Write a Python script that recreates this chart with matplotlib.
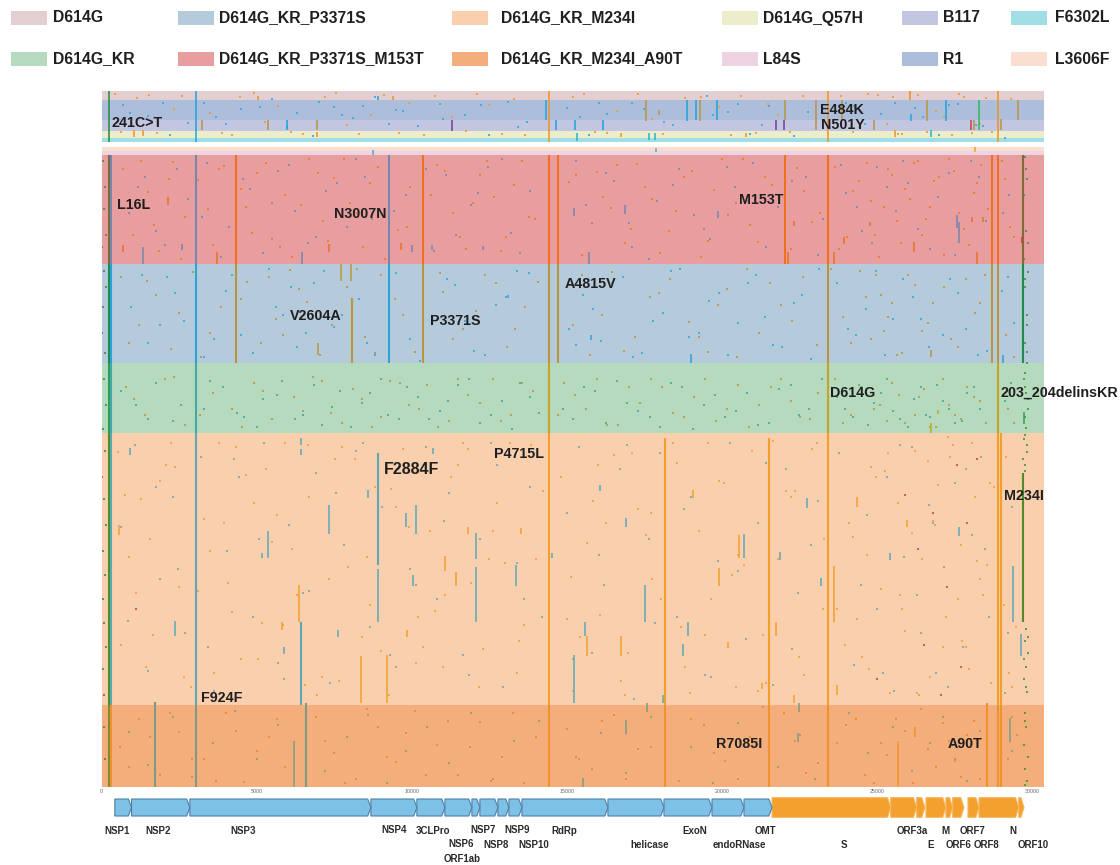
#! python

# mutation map of the genome, one row per sequence, grouped by clade
# values

import matplotlib
matplotlib.use('Agg')

import matplotlib.pyplot as plt
from matplotlib.patches import Polygon, Rectangle

plt.rcParams['font.family'] = ['Liberation Sans', 'DejaVu Sans']

#legend
legend_labels = [['D614G', 'D614G_KR_P3371S', 'D614G_KR_M234I', 'D614G_Q57H', 'B117', 'F6302L'],
                 ['D614G_KR', 'D614G_KR_P3371S_M153T', 'D614G_KR_M234I_A90T', 'L84S', 'R1', 'L3606F']]
legend_colors = [['#e3cfd1', '#b5cbdc', '#f9cfae', '#ecedcb', '#c2c6e0', '#a0dde4'],
                 ['#b6dabd', '#e89d9f', '#f4ae7c', '#eed3e3', '#adbedb', '#fadfd0']]

#clade bands, number of rows per clade
top_names = ['D614G', 'R1', 'B117', 'D614G_Q57H', 'F6302L']
top_sizes = [9, 20, 11, 7, 4]
top_colors = ['#e3cfd1', '#adbedb', '#c2c6e0', '#ecedcb', '#a0dde4']
main_names = ['L3606F', 'L84S', 'D614G_KR_P3371S_M153T', 'D614G_KR_P3371S', 'D614G_KR', 'D614G_KR_M234I', 'D614G_KR_M234I_A90T']
main_sizes = [4, 4, 109, 99, 70, 272, 82]
main_colors = ['#fadfd0', '#eed3e3', '#e89d9f', '#b5cbdc', '#b6dabd', '#f9cfae', '#f4ae7c']

#shared mutations (position, first row, last row, type)
top_lines = [(235, 0, 51, 'g'), (3030, 0, 51, 'b'), (14407, 0, 51, 'o'), (23410, 0, 51, 'o'), (28880, 0, 51, 'o'),
             (9389, 5, 9, 'o'), (5037, 5, 9, 'o'), (8905, 5, 9, 'b'), (14336, 9, 29, 'b'), (3249, 29, 39, 't'),
             (5379, 29, 39, 't'), (5988, 29, 39, 'b'), (6933, 29, 39, 't'), (11284, 29, 40, 'p'), (14643, 29, 39, 'b'),
             (1041, 39, 46, 'o'), (1331, 39, 45, 'o'), (6949, 41, 46, 'o'), (17533, 9, 30, 't'), (17961, 19, 24, 't'),
             (18858, 9, 30, 'b'), (19154, 9, 29, 'b'), (19270, 9, 30, 't'), (19831, 9, 29, 'b'), (15255, 29, 39, 'b'),
             (16157, 29, 39, 'b'), (21733, 29, 39, 'p'), (21991, 29, 39, 'p'), (22023, 9, 29, 't'), (23013, 9, 39, 't'),
             (23860, 9, 29, 't'), (24893, 29, 39, 't'), (26054, 0, 9, 'o'), (26076, 23, 30, 'b'), (26602, 9, 30, 't'),
             (27214, 9, 30, 'b'), (28264, 9, 39, 'G'), (28010, 29, 39, 'r'), (28103, 29, 39, 't'), (28986, 28, 39, 't'),
             (29534, 9, 29, 't'), (15319, 42, 50, 'T'), (16738, 42, 46, 'o'), (17626, 42, 49, 'T'), (17832, 42, 49, 'T'),
             (20757, 42, 46, 'o'), (26722, 39, 46, 'T'), (25571, 39, 46, 'o')]
pale_lines = [(8757, 3, 8, 'b'), (17866, 1, 5, 'b'), (28150, 0, 5, 'o')]
red_lines = [(235, 8, 117, 'm'), (300, 8, 117, 'b'), (3030, 8, 117, 'b'), (4329, 8, 117, 'o'), (9260, 8, 117, 'b'), (10365, 8, 117, 'o'),
             (14407, 8, 117, 'o'), (14697, 8, 117, 'o'), (22013, 8, 117, 'o'), (23410, 8, 117, 'o'), (28696, 8, 117, 'o'),
             (28880, 8, 117, 'o'), (29695, 8, 117, 'm'), (1331, 100, 117, 'b'), (2137, 50, 58, 'o'), (3716, 105, 117, 'o'),
             (6456, 105, 117, 'b'), (7326, 97, 105, 'o'), (9646, 96, 103, 'o'), (10001, 98, 105, 'b'), (690, 98, 105, 'o'),
             (10636, 98, 103, 'b'), (2578, 97, 103, 'b'), (15706, 105, 117, 'b'), (15222, 61, 69, 'b'), (16867, 58, 67, 'b'),
             (19851, 64, 71, 'b'), (12290, 99, 103, 'b'), (22110, 105, 117, 'o'), (23603, 105, 117, 'o'), (23925, 90, 97, 'o'),
             (26183, 95, 105, 'o'), (28213, 105, 117, 'o'), (27633, 75, 96, 'b'), (27559, 68, 81, 'b'), (22313, 74, 79, 'o'),
             (24764, 75, 79, 'o'), (28052, 70, 75, 'o'), (28406, 70, 75, 'o'), (29653, 90, 96, 'r')]
blue_lines = [(235, 117, 216, 'g'), (300, 117, 216, 'b'), (3030, 117, 216, 'b'), (4329, 117, 216, 'o'), (9260, 117, 216, 'b'), (10365, 117, 216, 'o'),
              (14407, 117, 216, 'o'), (14697, 117, 216, 'o'), (23410, 117, 216, 'o'), (28696, 117, 216, 'o'), (28880, 117, 216, 'o'),
              (29695, 117, 216, 'g'), (7713, 117, 134, 'o'), (8026, 117, 134, 'o'), (8067, 151, 216, 'o'), (6971, 196, 208, 'o'),
              (18993, 207, 216, 'b'), (13095, 148, 151, 'b'), (15770, 188, 193, 'b'), (26731, 203, 210, 'o'), (29050, 208, 216, 'b')]
green_lines = [(235, 216, 286, 'g'), (300, 216, 286, 'b'), (3030, 216, 286, 'b'), (14407, 216, 286, 'o'), (23410, 216, 286, 'o'), (28880, 216, 286, 'o'),
               (26722, 276, 286, 'o'), (26957, 263, 267, 'o'), (29727, 265, 277, 'g')]
peach_lines = [(235, 286, 558, 'g'), (300, 286, 558, 'b'), (3030, 286, 558, 'b'), (14407, 286, 558, 'o'), (18155, 291, 558, 'o'), (21507, 291, 558, 'o'),
               (23410, 286, 558, 'o'), (28880, 286, 558, 'o'), (28986, 286, 558, 'o'), (29695, 326, 475, 'g'),
               (912, 301, 308, 'b'), (6423, 291, 298, 'b'), (6423, 302, 308, 'b'), (8895, 306, 418, 'b'), (8895, 422, 475, 'b'),
               (8583, 343, 351, 'b'), (7316, 358, 387, 'b'), (5350, 384, 411, 'b'), (5166, 406, 411, 'b'), (9798, 366, 380, 'b'),
               (10130, 358, 387, 'b'), (558, 378, 388, 'o'), (10024, 428, 439, 'b'), (6359, 438, 475, 'o'), (6423, 475, 558, 'b'),
               (2362, 474, 489, 'b'), (5801, 475, 483, 'o'), (7616, 483, 490, 'b'), (9840, 483, 490, 'o'), (5866, 500, 507, 'b'),
               (8357, 509, 556, 'o'), (9186, 508, 556, 'o'), (10678, 301, 307, 'b'), (12054, 386, 412, 'b'), (12054, 420, 475, 'b'),
               (11796, 380, 387, 'o'), (11064, 409, 424, 'o'), (11419, 425, 439, 'o'), (13353, 418, 439, 'b'), (13514, 381, 387, 'o'),
               (15222, 508, 556, 'b'), (15577, 475, 489, 'b'), (15642, 489, 509, 'o'), (16738, 489, 509, 'o'), (16889, 371, 380, 'b'),
               (17501, 438, 475, 'b'), (14504, 406, 411, 'b'), (18887, 475, 489, 'b'), (18735, 497, 509, 'b'), (20540, 388, 411, 'o'),
               (19896, 421, 439, 'o'), (19058, 343, 351, 'o'), (20186, 495, 501, 'o'), (16060, 338, 344, 'b'), (18090, 548, 556, 'b'),
               (20701, 387, 411, 'b'), (22732, 351, 361, 'b'), (23184, 431, 439, 'b'), (23593, 419, 475, 'o'), (24345, 350, 360, 'o'),
               (25957, 373, 380, 'o'), (27633, 380, 389, 'b'), (29363, 419, 475, 'b'), (29621, 487, 509, 'b'), (21723, 475, 489, 'o'),
               (21862, 405, 413, 'b'), (25410, 406, 413, 'b'), (23699, 538, 548, 'o'), (21282, 536, 542, 'o'), (22313, 548, 556, 'o')]
orange_lines = [(235, 558, 640, 'm'), (320, 558, 640, 'o'), (1718, 555, 640, 'b'), (3030, 558, 640, 'b'), (6198, 594, 640, 'b'), (6585, 556, 640, 'b'),
                (14407, 558, 640, 'o'), (18155, 558, 640, 'o'), (21507, 558, 640, 'o'), (23410, 558, 640, 'o'), (25667, 594, 640, 'o'),
                (28535, 556, 640, 'o'), (28880, 558, 640, 'o'), (28986, 558, 640, 'o'), (29276, 571, 595, 'b'), (26215, 580, 590, 'o'),
                (16889, 573, 587, 'b'), (15513, 631, 640, 'b'), (17565, 556, 565, 'b'), (22442, 586, 595, 'b'), (22474, 556, 565, 'b')]

#colours of a mutation type on each band
top_line_colors = {'g': '#1e8a3a', 'b': '#1fa3dd', 'o': '#f0931f', 't': '#bb9442', 'p': '#7a3aa0', 'r': '#c8404a', 'G': '#2fb85a', 'T': '#25b4c4'}
pale_line_colors = {'b': '#5aa9d0', 'o': '#f3a02a'}
red_line_colors = {'m': '#7f6a3c', 'b': '#7686ae', 'o': '#ee7020', 'r': '#d8303a'}
blue_line_colors = {'g': '#1f8a4a', 'b': '#2aa3dc', 'o': '#b9953f'}
green_line_colors = {'g': '#2f9e57', 'b': '#45a8a8', 'o': '#c2a624'}
peach_line_colors = {'g': '#4f8c2a', 'b': '#5aa9b8', 'o': '#f3a02a'}
orange_line_colors = {'m': '#7e8a3a', 'b': '#7f9a84', 'o': '#f0932b'}

#single mutations, one list for each band and type
top_o_x = [420, 1150, 1800, 2600, 3500, 4200, 4900, 5700, 6100, 7200, 7900, 8300, 9100, 9900, 10400, 11300, 12100, 12900, 13300, 15200, 15900, 16600, 17300, 18100, 18800, 19900, 20600, 21100, 21800, 22600, 24200, 24700, 25300, 25500, 25800, 26300, 26900, 27400, 27800, 28300, 28700, 29300,
           640, 1540, 2320, 3880, 4460, 5260, 6480, 7560, 8680, 9580, 10760, 11740, 12480, 13640, 15540, 16280, 17740, 19320, 20280, 21460, 22180, 23820, 24420, 25020, 25660, 26040, 26600, 27140, 27620, 28060, 28500]
top_o_y = [3, 7, 42, 5, 22, 44, 2, 15, 41, 6, 34, 43, 4, 12, 44, 26, 3, 43, 8, 6, 41, 20, 3, 43, 7, 16, 5, 42, 24, 5, 41, 3, 33, 6, 43, 4, 20, 44, 6, 33, 41, 8,
           41, 4, 18, 42, 6, 31, 43, 2, 24, 42, 5, 40, 14, 44, 3, 42, 28, 6, 44, 13, 41, 5, 36, 4, 43, 2, 41, 26, 3, 42, 7, 44, 5, 40, 2]
top_b_x = [700, 1500, 2200, 3300, 4000, 4500, 5500, 6300, 6800, 7500, 8100, 8800, 9500, 10200, 10900, 11700, 12500, 13100, 13700, 15000, 15700, 16300, 17100, 18400, 19500, 20200, 20900, 21500, 22300, 24000, 24600, 25100, 26200, 27000, 27600, 28400, 29100,
           920, 1980, 2800, 3700, 5100, 5980, 7000, 7740, 8420, 9260, 9720, 11000, 12220, 13420, 15420, 16040, 17480, 18120, 19700, 20500, 21280, 22760, 24240, 25560, 26480, 27300, 28180]
top_b_y = [14, 25, 44, 12, 33, 18, 8, 22, 45, 16, 27, 6, 19, 35, 13, 24, 44, 11, 31, 17, 44, 23, 12, 34, 5, 21, 43, 15, 45, 12, 33, 23, 17, 44, 13, 35, 47,
           22, 12, 32, 26, 16, 36, 11, 24, 15, 33, 20, 28, 14, 36, 26, 12, 18, 31, 24, 13, 34, 21, 15, 12, 26, 14, 34]

red_o_x = [700, 1020, 1500, 1850, 2310, 2700, 3120, 3600, 3950, 4650, 5020, 5480, 5900, 6150, 6700, 7150, 7480, 8000, 8420, 8900, 9550, 9950, 10800, 11320, 11750, 12180, 12650, 13020, 13540, 13980, 15050, 15480, 15950, 16400, 16880, 17250, 17740, 18300, 18770, 19300, 19750, 20200, 20680, 21150, 21600, 22400, 22900, 23750, 24200, 24650, 24920, 25200, 25470, 25750, 26050, 26300, 26580, 26820, 27150, 27480, 27800, 28100, 28350, 28560, 29100, 29400,
           860, 1260, 1680, 2180, 2560, 3440, 3780, 4480, 4860, 5300, 5760, 6440, 6980, 7300, 7820, 8240, 8640, 9120, 9840, 10620, 11060, 11540, 11980, 12420, 12860, 13300, 13760, 15280, 15720, 16160, 16620, 17060, 17520, 18000, 18520, 19040, 19540, 20000, 20440, 20900, 21380, 22200, 22640, 23160, 23620, 24020, 24400, 24780, 25060, 25340, 25620, 25900, 26180, 26440, 26700, 26980, 27300, 27640, 27960, 28220, 29000, 29280]
red_o_y = [22, 88, 45, 104, 15, 70, 33, 98, 19, 60, 26, 92, 48, 110, 12, 74, 31, 56, 100, 20, 83, 40, 18, 66, 102, 28, 50, 90, 14, 72, 35, 108, 25, 61, 96, 17, 52, 84, 30, 110, 43, 68, 12, 95, 38, 21, 75, 102, 44, 16, 88, 60, 28, 96, 52, 14, 72, 34, 108, 24, 82, 46, 18, 62, 32, 90,
           54, 14, 78, 32, 112, 62, 22, 42, 86, 16, 100, 58, 26, 94, 12, 66, 36, 112, 80, 48, 24, 90, 56, 14, 104, 38, 70, 28, 112, 50, 18, 82, 40, 106, 64, 24, 94, 12, 56, 78, 30, 102, 44, 66, 20, 90, 34, 54, 110, 22, 74, 42, 16, 88, 60, 30, 12, 66, 98, 36, 14, 80]
red_b_x = [880, 1400, 2050, 2800, 3400, 4100, 4800, 5200, 5700, 6250, 6900, 7600, 8200, 8700, 9800, 10700, 11100, 11900, 12450, 13200, 13800, 15300, 15800, 16500, 17100, 17900, 18600, 19100, 19600, 20400, 21000, 21800, 22700, 23100, 24000, 24500, 25000, 25600, 26000, 26700, 27300, 28000, 28500, 29250,
           1160, 1760, 2440, 3240, 3860, 4560, 5500, 6040, 6640, 7240, 7920, 8500, 9420, 10460, 11420, 12140, 12920, 13480, 15600, 16260, 16980, 17640, 18420, 19420, 20160, 20820, 21420, 22240, 23260, 23840, 24340, 24840, 25320, 25840, 26320, 26940, 27500, 28260, 29040]
red_b_y = [66, 30, 98, 52, 16, 80, 42, 106, 24, 64, 90, 36, 12, 72, 48, 104, 28, 58, 20, 86, 44, 14, 76, 34, 100, 54, 22, 68, 92, 40, 16, 60, 30, 108, 46, 84, 20, 64, 36, 102, 26, 14, 74, 48,
           40, 84, 22, 70, 110, 32, 56, 18, 96, 44, 80, 30, 64, 22, 88, 46, 12, 106, 58, 26, 76, 112, 38, 82, 20, 54, 100, 34, 72, 18, 60, 96, 40, 14, 82, 50, 108, 30, 66]

blue_o_x = [620, 1210, 1750, 2240, 2950, 3500, 3850, 4700, 5150, 5620, 6080, 6620, 7050, 7900, 8500, 9000, 9700, 10100, 11000, 11650, 12350, 13050, 13640, 14050, 15200, 15750, 16450, 17200, 17680, 18320, 18920, 19540, 20150, 20800, 21200, 21900, 22600, 23050, 23900, 24450, 24800, 25100, 25350, 25620, 26000, 26450, 26800, 27150, 27600, 28150, 28450, 29150,
            880, 1480, 2500, 3200, 4500, 5400, 5860, 6360, 7440, 8240, 8800, 9460, 10900, 11340, 12060, 12700, 13320, 15480, 16120, 16820, 17960, 18640, 19240, 19860, 20480, 21540, 22260, 23500, 24160, 24640, 24960, 25220, 25480, 25800, 26220, 26640, 27380, 27860, 28320, 29400]
blue_o_y = [130, 178, 148, 202, 125, 186, 160, 135, 196, 172, 123, 155, 208, 140, 190, 128, 168, 205, 145, 182, 128, 200, 160, 135, 178, 208, 125, 190, 150, 132, 175, 205, 142, 122, 186, 158, 130, 198, 170, 124, 192, 148, 170, 208, 128, 184, 156, 140, 200, 166, 128, 188,
            196, 134, 166, 210, 152, 130, 188, 142, 178, 122, 206, 152, 126, 192, 164, 136, 182, 128, 168, 204, 146, 122, 190, 158, 210, 136, 174, 122, 196, 150, 128, 184, 156, 206, 138, 176, 192, 132, 156, 210]
blue_b_x = [950, 1500, 2100, 2650, 3300, 4000, 4500, 5400, 5850, 6300, 6850, 7500, 8300, 8800, 9500, 9950, 10800, 11400, 12000, 12700, 13400, 15050, 15500, 16100, 16800, 17400, 18100, 18650, 19250, 19900, 20500, 21100, 21650, 22300, 22850, 23700, 24300, 24950, 25500, 26150, 26650, 27350, 27850, 28250, 29000, 29400,
            1300, 1900, 2380, 3620, 4220, 4880, 5620, 6120, 6580, 7160, 7760, 8560, 9260, 10260, 11140, 11720, 12360, 13040, 13780, 15280, 15820, 16460, 17120, 17760, 18360, 18940, 19580, 20200, 20820, 21380, 21920, 22580, 23120, 24040, 24640, 25240, 25840, 26420, 27100, 27600, 28540, 29200]
blue_b_y = [160, 196, 130, 174, 210, 144, 188, 122, 168, 200, 136, 180, 152, 208, 126, 192, 172, 138, 204, 158, 124, 182, 148, 194, 130, 206, 166, 122, 186, 146, 176, 128, 198, 156, 212, 136, 188, 124, 172, 150, 200, 132, 182, 208, 144, 176,
            128, 178, 146, 192, 128, 206, 160, 140, 186, 124, 168, 196, 144, 214, 132, 174, 208, 150, 126, 198, 162, 136, 210, 174, 124, 190, 154, 208, 136, 170, 200, 148, 122, 182, 162, 208, 132, 172, 188, 146, 204, 130]

green_o_x = [800, 1400, 2050, 2700, 3600, 4200, 4900, 5500, 6200, 6800, 7400, 8100, 8700, 9300, 9900, 10500, 11200, 11800, 12600, 13200, 13900, 14900, 15600, 16300, 17000, 17700, 18400, 19100, 19800, 20500, 21200, 21900, 22500, 23100, 23900, 24400, 24900, 25300, 25700, 26200, 26500, 26900, 27300, 27700, 28100, 28500, 29200,
             1060, 2340, 3180, 4520, 5200, 6480, 7120, 7760, 8400, 9000, 9620, 10220, 10840, 11500, 12200, 12880, 13560, 14700, 15260, 15960, 16640, 17360, 18060, 18760, 19460, 20160, 20860, 21560, 22220, 22820, 23640, 24160, 24640, 25080, 25480, 25880, 26340, 26700, 27100, 27500, 27900, 28300, 29400]
green_o_y = [240, 268, 232, 278, 246, 262, 236, 272, 250, 230, 266, 242, 280, 234, 258, 238, 274, 248, 232, 268, 244, 236, 262, 278, 240, 232, 266, 250, 274, 238, 258, 232, 270, 246, 276, 238, 262, 274, 248, 268, 242, 280, 258, 272, 250, 276, 262,
             252, 230, 268, 280, 244, 264, 234, 276, 252, 270, 236, 262, 280, 232, 256, 274, 236, 268, 248, 232, 278, 256, 240, 270, 232, 262, 280, 240, 254, 272, 232, 268, 246, 258, 236, 276, 250, 280, 232, 268, 240, 254, 276]
green_b_x = [1100, 1750, 2300, 3300, 3900, 4600, 5200, 5800, 6500, 7100, 7700, 8400, 9000, 9600, 10200, 10900, 11500, 12200, 12900, 13500, 14100, 15200, 15900, 16600, 17300, 18000, 18700, 19400, 20100, 20800, 21500, 22200, 22800, 23700, 24200, 24700, 25100, 25500, 26000, 26400, 26700, 27100, 27500, 27900, 28300, 29300,
             620, 1500, 2560, 3500, 4360, 5000, 5640, 6240, 6840, 7440, 8040, 8640, 9240, 9840, 10560, 11160, 11840, 12560, 13240, 13820, 14860, 15560, 16260, 16940, 17660, 18340, 19060, 19760, 20440, 21140, 21840, 22480, 23200, 23960, 24460, 24900, 25300, 25740, 26180, 26580, 26920, 27320, 27720, 28120, 29100]
green_b_y = [258, 236, 274, 262, 240, 270, 252, 234, 268, 278, 244, 256, 232, 272, 250, 264, 238, 276, 254, 236, 266, 272, 244, 234, 264, 280, 240, 258, 270, 246, 276, 238, 262, 250, 270, 278, 246, 264, 280, 240, 270, 254, 276, 246, 262, 236,
             244, 272, 258, 234, 266, 280, 248, 272, 238, 260, 280, 246, 268, 240, 272, 254, 232, 268, 282, 250, 262, 240, 276, 256, 270, 236, 282, 248, 264, 278, 242, 268, 232, 262, 240, 256, 232, 272, 252, 268, 238, 262, 274, 240, 254]

peach_o_x = [520, 900, 1280, 1650, 2080, 2500, 2880, 3300, 3780, 4200, 4650, 5050, 5480, 5900, 6300, 6700, 7100, 7520, 7950, 8400, 8800, 9250, 9700, 10200, 10600, 11000, 11500, 11900, 12300, 12750, 13150, 13600, 14000, 14800, 15200, 15650, 16050, 16500, 16950, 17300, 17750, 18400, 18800, 19250, 19650, 20050, 20450, 20950, 21300, 21800, 22200, 22650, 23050, 23700, 24100, 24500, 24800, 25100, 25400, 25650, 25900, 26200, 26450, 26700, 26950, 27200, 27450, 27700, 27950, 28150, 28400, 28650, 29150, 29450,
             760, 1420, 2240, 3100, 3950, 4480, 5300, 6150, 6950, 7750, 8650, 9480, 10350, 11250, 12150, 13000, 13850, 15000, 15850, 16750, 17550, 18550, 19450, 20300, 21150, 22050, 22900, 23950, 24650, 25250, 25800, 26350, 26850, 27350, 27850, 28300, 28750, 29250,
             1120, 1880, 2660, 3480, 4320, 5160, 5660, 6560, 7340, 8180, 9020, 9900, 10760, 11640, 12480, 13380, 14220, 15420, 16260, 17100, 18020, 18960, 19880, 20700, 21620, 22460, 23280, 24340, 24960, 25540, 26100, 26620, 27120, 27600, 28060, 28540, 29350,
             620, 1560, 2380, 3620, 4060, 4920, 5840, 6640, 7640, 8540, 9340, 10120, 11080, 11820, 12620, 13460, 15120, 16000, 16860, 17700, 18660, 19540, 20500, 21420, 22360, 23240, 24220, 24740, 25340, 25740, 26280, 26780, 27260, 27740, 28200, 28620, 29080]
peach_o_y = [305, 410, 352, 488, 318, 440, 540, 372, 296, 465, 328, 512, 395, 296, 448, 350, 530, 312, 420, 490, 340, 548, 302, 470, 384, 520, 318, 436, 502, 356, 296, 478, 412, 330, 544, 396, 468, 308, 506, 362, 432, 296, 520, 384, 452, 336, 540, 304, 488, 412, 350, 528, 296, 462, 376, 510, 320, 442, 546, 356, 484, 304, 412, 530, 338, 470, 298, 398, 522, 350, 448, 536, 310, 480,
             348, 520, 296, 444, 376, 512, 322, 402, 548, 300, 458, 360, 500, 330, 540, 416, 298, 472, 354, 534, 388, 316, 488, 428, 544, 344, 302, 498, 408, 324, 462, 548, 378, 310, 500, 432, 340, 526,
             446, 334, 530, 404, 300, 476, 368, 538, 432, 312, 504, 380, 464, 296, 412, 526, 344, 490, 376, 306, 452, 546, 334, 418, 294, 510, 392, 472, 330, 544, 386, 314, 500, 452, 296, 418, 540,
             498, 392, 320, 526, 436, 356, 478, 298, 534, 410, 342, 516, 448, 302, 384, 494, 430, 318, 548, 366, 480, 296, 408, 536, 344, 462, 390, 522, 306, 448, 546, 374, 290, 494, 414, 336, 458]
peach_b_x = [640, 1080, 1500, 1900, 2290, 2700, 3200, 3620, 4050, 4430, 4880, 5250, 5700, 6050, 6500, 6900, 7350, 7800, 8200, 8650, 9050, 9500, 9950, 10450, 10800, 11200, 11650, 12200, 12550, 12950, 13400, 13800, 14200, 15000, 15400, 15800, 16200, 16700, 17150, 17650, 18000, 18550, 19000, 19450, 19850, 20250, 20750, 21150, 21650, 22050, 22450, 22850, 23750, 24250, 24650, 25000, 25300, 25550, 25850, 26100, 26400, 26650, 26900, 27150, 27500, 27750, 28050, 28350, 28600, 29100, 29350,
             840, 1740, 2480, 3440, 4280, 5060, 5880, 6700, 7560, 8440, 9280, 10120, 11020, 11840, 12740, 13620, 15200, 16040, 16940, 17840, 18780, 19640, 20520, 21420, 22260, 23080, 24480, 25180, 25720, 26260, 26780, 27280, 27840, 28480, 29220]
peach_b_y = [380, 298, 524, 432, 350, 486, 310, 544, 404, 330, 470, 296, 516, 378, 446, 326, 536, 398, 304, 480, 360, 520, 422, 300, 452, 346, 508, 392, 296, 540, 416, 340, 470, 366, 300, 506, 438, 322, 552, 392, 306, 470, 350, 528, 414, 296, 492, 376, 538, 322, 446, 398, 306, 518, 368, 462, 330, 544, 410, 300, 486, 358, 526, 420, 336, 500, 388, 310, 470, 546, 360,
             474, 340, 422, 500, 312, 392, 532, 444, 346, 296, 508, 438, 374, 528, 318, 452, 512, 408, 298, 476, 362, 530, 424, 316, 502, 354, 438, 526, 298, 448, 376, 540, 322, 402, 486]
peach_r_x = [25900, 26320, 26800, 27240, 27560, 27900, 28200, 1100, 25000, 26500, 27050, 27700]
peach_r_y = [348, 402, 366, 440, 318, 376, 312, 462, 532, 498, 548, 520]

orange_o_x = [600, 1200, 1900, 2500, 3300, 4000, 4600, 5400, 5900, 6900, 7500, 8200, 8900, 9500, 10100, 10800, 11500, 12200, 12900, 13600, 15000, 15800, 16500, 17300, 18600, 19400, 20100, 20900, 22000, 22700, 23700, 24300, 24900, 25300, 25900, 26400, 26900, 27300, 27700, 28100, 29200, 29500,
              880, 1560, 2220, 2900, 3680, 4320, 5020, 5660, 7200, 7860, 8560, 9200, 9800, 10460, 11160, 11860, 12560, 13260, 14000, 15400, 16140, 16900, 17700, 19000, 19740, 20500, 21300, 22340, 23100, 24000, 24600, 25100, 25600, 26140, 26640, 27100, 27500, 27880, 28300, 29350]
orange_o_y = [600, 572, 628, 585, 612, 566, 635, 590, 620, 570, 606, 632, 580, 615, 564, 598, 628, 575, 610, 636, 582, 622, 568, 602, 634, 578, 614, 590, 566, 626, 596, 572, 636, 608, 584, 562, 620, 594, 630, 574, 612, 588,
              620, 590, 566, 612, 634, 584, 604, 572, 594, 636, 562, 610, 586, 628, 574, 600, 634, 566, 590, 612, 574, 632, 600, 572, 606, 632, 560, 594, 616, 578, 628, 596, 572, 636, 602, 576, 614, 588, 632, 570]
orange_b_x = [900, 1500, 2300, 2900, 3600, 4300, 5000, 5700, 7200, 7900, 8600, 9200, 9800, 10500, 11200, 11900, 12600, 13300, 14100, 15300, 16100, 16900, 17700, 19000, 19700, 20500, 21800, 22500, 23000, 24100, 24700, 25500, 26100, 26700, 27100, 27500, 27900, 28300, 29350]
orange_b_y = [585, 618, 570, 630, 596, 564, 612, 578, 624, 590, 568, 636, 604, 580, 616, 566, 632, 594, 574, 610, 586, 626, 570, 600, 636, 576, 620, 588, 632, 566, 606, 580, 624, 596, 570, 612, 634, 584, 604]

#green specks at both ends of the genome
tail_x = [29760, 29820, 29700, 29790, 29730, 29850, 29760, 29810, 29700, 29830, 29770, 29740, 29850, 29790, 29720, 29820, 29760, 29800, 29740, 29850, 29780, 29710, 29830, 29760, 29800, 29730, 29840, 29770, 29810, 29750,
          29790, 29720, 29840, 29760, 29700, 29810, 29750, 29830, 29720, 29790, 29850, 29740, 29770, 29810, 29700, 29760, 29840, 29730, 29800, 29770]
tail_y = [10, 32, 60, 84, 112, 125, 140, 168, 185, 205, 226, 240, 252, 281, 292, 305, 318, 482, 494, 506, 520, 532, 545, 566, 580, 598, 610, 622, 634, 638,
          22, 48, 96, 132, 152, 178, 196, 216, 232, 246, 262, 270, 288, 298, 312, 324, 490, 512, 540, 574]
head_x = [40, 110, 70, 130, 20, 90, 150, 60, 30, 120, 80, 140, 50, 100, 25, 75, 135, 55, 105, 35, 85, 145, 45, 95, 65, 125]
head_y = [14, 40, 62, 88, 100, 124, 140, 160, 186, 206, 232, 258, 282, 304, 330, 352, 378, 404, 428, 452, 476, 500, 522, 548, 580, 612]

#genes along the bottom
gene_names = ['NSP1', 'NSP2', 'NSP3', 'NSP4', '3CLPro', 'NSP6', 'NSP7', 'NSP8', 'NSP9', 'NSP10', 'RdRp', 'helicase', 'ExoN', 'endoRNase', 'OMT']
gene_starts = [429, 967, 2846, 8679, 10161, 11064, 11934, 12192, 12772, 13127, 13546, 16317, 18122, 19669, 20700]
gene_ends = [967, 2846, 8679, 10161, 11064, 11934, 12192, 12772, 13127, 13546, 16317, 18122, 19669, 20700, 21603]
orf_names = ['S', 'ORF3a', 'E', 'M', 'ORF6', 'ORF7', 'ORF8', 'N', 'ORF10']
orf_starts = [21603, 25427, 26264, 26564, 27206, 27424, 27917, 28272, 29552]
orf_ends = [25427, 26264, 26530, 27206, 27424, 27788, 28272, 29552, 29723]

#x axis
tick_values = [0, 5000, 10000, 15000, 20000, 25000, 30000]
x_max = 30367


def px(x, y):
    #picture pixels to figure coordinates
    return x / 1120, 1 - y / 865


def add_axes(left, top, right, bottom):
    ax = fig.add_axes([left / 1120, 1 - bottom / 865, (right - left) / 1120, (bottom - top) / 865])
    ax.set_xlim(0, x_max)
    ax.set_yticks([])
    for side in ax.spines:
        ax.spines[side].set_visible(False)
    return ax


def draw_bands(ax, sizes, colors):
    start = 0
    for size, color in zip(sizes, colors):
        ax.barh(start, x_max, height=size, align='edge', color=color, linewidth=0, zorder=1)
        start += size
    ax.set_ylim(start, 0)


def draw_lines(ax, lines, colors):
    for pos, y0, y1, kind in lines:
        width = 1.5 if y1 - y0 > 60 else 1.1
        ax.vlines(pos, y0, y1, color=colors[kind], linewidth=width, zorder=3)


def draw_specks(ax, x, y, color):
    #the hand typed lists are not always the same length, keep the complete pairs
    n = min(len(x), len(y))
    ax.scatter(x[:n], y[:n], s=2.4, marker='s', color=color, linewidths=0, alpha=0.85, zorder=2)


def draw_genes(starts, ends, fill, edge, tip, pad):
    #later genes first so that each point lies over the next gene
    for x0, x1 in reversed(list(zip(starts, ends))):
        shape = [(x0, -pad), (x1 - tip, -pad), (x1, 0.5), (x1 - tip, 1 + pad), (x0, 1 + pad)]
        ax_genes.add_patch(Polygon(shape, closed=True, facecolor=fill, edgecolor=edge, linewidth=0.8, clip_on=False))


fig = plt.figure(figsize=(11.2, 8.65), dpi=100)

#legend boxes and names
legend_x = [(11, 53), (178, 219), (452, 501), (722, 763), (902, 943), (1011, 1055)]
legend_y = [18, 59]
for row in range(2):
    for col in range(6):
        x0, y0 = px(legend_x[col][0], legend_y[row] + 7)
        fig.add_artist(Rectangle((x0, y0), 36 / 1120, 14 / 865, color=legend_colors[row][col], linewidth=0))
        tx, ty = px(legend_x[col][1], legend_y[row])
        fig.text(tx, ty, legend_labels[row][col], fontsize=11.3, fontweight='bold', color='#1f1f1f', va='center')

#upper panel
ax_top = add_axes(101.5, 90.7, 1044, 141.7)
ax_top.set_xticks([])
draw_bands(ax_top, top_sizes, top_colors)
draw_lines(ax_top, top_lines, top_line_colors)
draw_specks(ax_top, top_o_x, top_o_y, '#ee9a30')
draw_specks(ax_top, top_b_x, top_b_y, '#35a8e0')

#main panel
ax_main = add_axes(101.5, 147, 1044, 787)
draw_bands(ax_main, main_sizes, main_colors)
draw_lines(ax_main, pale_lines, pale_line_colors)
draw_lines(ax_main, red_lines, red_line_colors)
draw_lines(ax_main, blue_lines, blue_line_colors)
draw_lines(ax_main, green_lines, green_line_colors)
draw_lines(ax_main, peach_lines, peach_line_colors)
draw_lines(ax_main, orange_lines, orange_line_colors)
draw_specks(ax_main, red_o_x, red_o_y, '#ee7a2a')
draw_specks(ax_main, red_b_x, red_b_y, '#7a88ae')
draw_specks(ax_main, blue_o_x, blue_o_y, '#b9953f')
draw_specks(ax_main, blue_b_x, blue_b_y, '#35a8e0')
draw_specks(ax_main, green_o_x, green_o_y, '#b59a3a')
draw_specks(ax_main, green_b_x, green_b_y, '#45a8a0')
draw_specks(ax_main, peach_o_x, peach_o_y, '#f0a040')
draw_specks(ax_main, peach_b_x, peach_b_y, '#7fa8a8')
draw_specks(ax_main, peach_r_x, peach_r_y, '#c0504a')
draw_specks(ax_main, orange_o_x, orange_o_y, '#e88a30')
draw_specks(ax_main, orange_b_x, orange_b_y, '#8f9a80')
draw_specks(ax_main, tail_x, tail_y, '#3f9a30')
draw_specks(ax_main, head_x, head_y, '#4f8a40')
ax_main.set_xticks(tick_values)
ax_main.tick_params(axis='x', length=0, pad=1.5, labelsize=3.8, labelcolor='#666666')

#genes
ax_genes = add_axes(101.5, 799, 1044, 816)
ax_genes.set_xticks([])
ax_genes.set_ylim(0, 1)
draw_genes(orf_starts, orf_ends, '#f3a02e', '#f7b860', 100, 0.08)
draw_genes(gene_starts, gene_ends, '#7ec1e6', '#4d7fa8', 100, 0)

#mutation names
notes = [('241C>T', 137, 123, 10.3), ('E484K', 842, 110, 10.3), ('N501Y', 843, 125, 10.3), ('L16L', 134, 205, 10.3),
         ('N3007N', 360, 214, 10.3), ('V2604A', 316, 316, 10.3), ('P3371S', 455, 321, 10.3), ('A4815V', 590, 284, 10.3),
         ('M153T', 761, 200, 10.3), ('D614G', 853, 393, 10.3), ('203_204delinsKR', 1059, 393, 10.3), ('F2884F', 412, 470, 11.5),
         ('P4715L', 519, 454, 10.3), ('M234I', 1024, 496, 10.3), ('F924F', 222, 698, 10.3), ('R7085I', 739, 744, 10.3),
         ('A90T', 965, 744, 10.3)]
for label, x, y, size in notes:
    tx, ty = px(x, y)
    fig.text(tx, ty, label, fontsize=size, fontweight='bold', color='#1f1f1f', ha='center', va='center', zorder=10)

#gene names
gene_labels = [('NSP1', 117, 831), ('NSP2', 158, 831), ('NSP3', 243, 831), ('NSP4', 394, 830), ('3CLPro', 433, 831),
               ('NSP7', 483, 830), ('NSP9', 517, 830), ('RdRp', 564, 831), ('NSP6', 461, 844), ('NSP8', 496, 845),
               ('NSP10', 534, 845), ('ORF1ab', 462, 859), ('helicase', 650, 845), ('ExoN', 695, 831), ('endoRNase', 739, 845),
               ('OMT', 765, 831), ('S', 844, 845), ('ORF3a', 912, 831), ('M', 945, 831), ('ORF7', 972, 831), ('N', 1013, 831),
               ('E', 931, 845), ('ORF6', 959, 845), ('ORF8', 987, 845), ('ORF10', 1033, 845)]
for label, x, y in gene_labels:
    tx, ty = px(x, y)
    fig.text(tx, ty, label, fontsize=7, fontweight='bold', color='#2a2a2a', ha='center', va='center')

fig.savefig('out.png', dpi=100)
